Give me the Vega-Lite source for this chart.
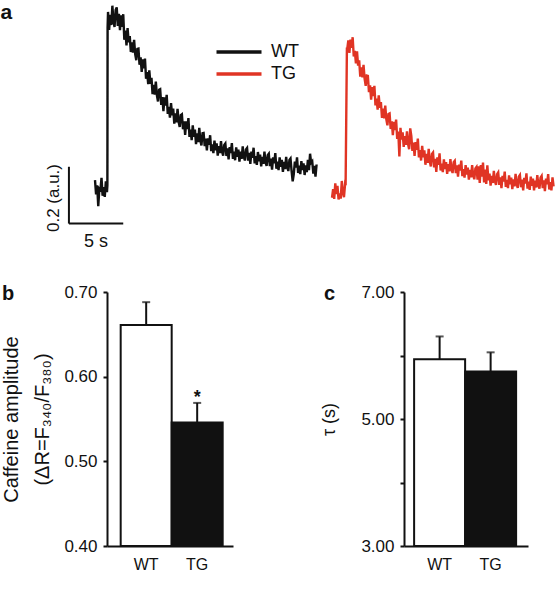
{
"$schema": "https://vega.github.io/schema/vega-lite/v6.json",
"padding": 0,
"config": {"font": "Liberation Sans", "view": {"stroke": null}, "title": {"font": "Liberation Sans"}},
"datasets": {
"wt": [
{"t":0,"v":0.353},{"t":0.1,"v":0.303},{"t":0.2,"v":0.335},{"t":0.3,"v":0.261},{"t":0.4,"v":0.323},{"t":0.5,"v":0.319},{"t":0.6,"v":0.361},{"t":0.7,"v":0.298},{"t":0.8,"v":0.328},{"t":0.9,"v":0.294},{"t":1.0,"v":0.349},{"t":1.1,"v":0.311},{"t":1.14,"v":0.335},{"t":1.16,"v":0.89},
{"t":1.2,"v":0.945},{"t":1.3,"v":0.882},{"t":1.4,"v":0.935},{"t":1.5,"v":0.899},{"t":1.6,"v":0.967},{"t":1.7,"v":0.912},{"t":1.8,"v":0.892},{"t":1.9,"v":0.952},{"t":2.0,"v":0.961},{"t":2.1,"v":0.896},{"t":2.2,"v":0.938},{"t":2.3,"v":0.881},{"t":2.4,"v":0.933},{"t":2.5,"v":0.892},{"t":2.6,"v":0.937},{"t":2.7,"v":0.847},{"t":2.8,"v":0.879},{"t":2.9,"v":0.827},
{"t":3.0,"v":0.888},{"t":3.1,"v":0.838},{"t":3.2,"v":0.860},{"t":3.3,"v":0.804},{"t":3.4,"v":0.838},{"t":3.5,"v":0.802},{"t":3.6,"v":0.847},{"t":3.7,"v":0.797},{"t":3.8,"v":0.775},{"t":3.9,"v":0.815},
{"t":4.0,"v":0.816},{"t":4.1,"v":0.759},{"t":4.2,"v":0.785},{"t":4.3,"v":0.734},{"t":4.4,"v":0.778},{"t":4.5,"v":0.746},{"t":4.6,"v":0.781},{"t":4.7,"v":0.710},{"t":4.8,"v":0.733},{"t":4.9,"v":0.691},
{"t":5.0,"v":0.739},{"t":5.1,"v":0.692},{"t":5.2,"v":0.713},{"t":5.3,"v":0.656},{"t":5.4,"v":0.688},{"t":5.5,"v":0.654},{"t":5.6,"v":0.700},{"t":5.7,"v":0.651},{"t":5.8,"v":0.630},{"t":5.9,"v":0.671},
{"t":6.0,"v":0.673},{"t":6.1,"v":0.618},{"t":6.2,"v":0.645},{"t":6.3,"v":0.596},{"t":6.4,"v":0.644},{"t":6.5,"v":0.615},{"t":6.6,"v":0.653},{"t":6.7,"v":0.586},{"t":6.8,"v":0.611},{"t":6.9,"v":0.573},
{"t":7.0,"v":0.624},{"t":7.1,"v":0.581},{"t":7.2,"v":0.605},{"t":7.3,"v":0.552},{"t":7.4,"v":0.588},{"t":7.5,"v":0.556},{"t":7.6,"v":0.604},{"t":7.7,"v":0.558},{"t":7.8,"v":0.540},{"t":7.9,"v":0.582},
{"t":8.0,"v":0.585},{"t":8.1,"v":0.532},{"t":8.2,"v":0.560},{"t":8.3,"v":0.512},{"t":8.4,"v":0.560},{"t":8.5,"v":0.533},{"t":8.6,"v":0.571},{"t":8.7,"v":0.505},{"t":8.8,"v":0.531},{"t":8.9,"v":0.494},
{"t":9.0,"v":0.546},{"t":9.1,"v":0.505},{"t":9.2,"v":0.531},{"t":9.3,"v":0.480},{"t":9.4,"v":0.518},{"t":9.5,"v":0.487},{"t":9.6,"v":0.537},{"t":9.7,"v":0.492},{"t":9.8,"v":0.475},{"t":9.9,"v":0.518},
{"t":10.0,"v":0.519},{"t":10.1,"v":0.473},{"t":10.2,"v":0.499},{"t":10.3,"v":0.458},{"t":10.4,"v":0.500},{"t":10.5,"v":0.477},{"t":10.6,"v":0.511},{"t":10.7,"v":0.455},{"t":10.8,"v":0.479},{"t":10.9,"v":0.448},
{"t":11.0,"v":0.492},{"t":11.1,"v":0.458},{"t":11.2,"v":0.482},{"t":11.3,"v":0.439},{"t":11.4,"v":0.473},{"t":11.5,"v":0.448},{"t":11.6,"v":0.490},{"t":11.7,"v":0.453},{"t":11.8,"v":0.439},{"t":11.9,"v":0.477},
{"t":12.0,"v":0.482},{"t":12.1,"v":0.438},{"t":12.2,"v":0.465},{"t":12.3,"v":0.426},{"t":12.4,"v":0.469},{"t":12.5,"v":0.448},{"t":12.6,"v":0.483},{"t":12.7,"v":0.428},{"t":12.8,"v":0.453},{"t":12.9,"v":0.423},
{"t":13.0,"v":0.468},{"t":13.1,"v":0.435},{"t":13.2,"v":0.460},{"t":13.3,"v":0.418},{"t":13.4,"v":0.453},{"t":13.5,"v":0.428},{"t":13.6,"v":0.472},{"t":13.7,"v":0.435},{"t":13.8,"v":0.422},{"t":13.9,"v":0.461},
{"t":14.0,"v":0.466},{"t":14.1,"v":0.422},{"t":14.2,"v":0.449},{"t":14.3,"v":0.410},{"t":14.4,"v":0.453},{"t":14.5,"v":0.432},{"t":14.6,"v":0.467},{"t":14.7,"v":0.412},{"t":14.8,"v":0.437},{"t":14.9,"v":0.407},
{"t":15.0,"v":0.452},{"t":15.1,"v":0.419},{"t":15.2,"v":0.443},{"t":15.3,"v":0.401},{"t":15.4,"v":0.435},{"t":15.5,"v":0.410},{"t":15.6,"v":0.453},{"t":15.7,"v":0.416},{"t":15.8,"v":0.403},{"t":15.9,"v":0.441},
{"t":16.0,"v":0.446},{"t":16.1,"v":0.402},{"t":16.2,"v":0.429},{"t":16.3,"v":0.390},{"t":16.4,"v":0.433},{"t":16.5,"v":0.412},{"t":16.6,"v":0.448},{"t":16.7,"v":0.393},{"t":16.8,"v":0.418},{"t":16.9,"v":0.388},
{"t":17.0,"v":0.433},{"t":17.1,"v":0.400},{"t":17.2,"v":0.424},{"t":17.3,"v":0.382},{"t":17.4,"v":0.417},{"t":17.5,"v":0.392},{"t":17.6,"v":0.435},{"t":17.7,"v":0.398},{"t":17.8,"v":0.385},{"t":17.9,"v":0.424},
{"t":18.0,"v":0.429},{"t":18.1,"v":0.385},{"t":18.2,"v":0.349},{"t":18.3,"v":0.374},{"t":18.4,"v":0.418},{"t":18.5,"v":0.397},{"t":18.6,"v":0.433},{"t":18.7,"v":0.378},{"t":18.8,"v":0.404},{"t":18.9,"v":0.374},
{"t":19.0,"v":0.420},{"t":19.1,"v":0.388},{"t":19.2,"v":0.412},{"t":19.3,"v":0.371},{"t":19.4,"v":0.405},{"t":19.5,"v":0.381},{"t":19.6,"v":0.424},{"t":19.7,"v":0.388},{"t":19.8,"v":0.446},{"t":19.9,"v":0.414},
{"t":20.0,"v":0.419},{"t":20.1,"v":0.376},{"t":20.2,"v":0.403},{"t":20.3,"v":0.365},{"t":20.4,"v":0.408}
],
"tg": [
{"t":0,"v":0.291},{"t":0.1,"v":0.321},{"t":0.2,"v":0.287},{"t":0.3,"v":0.342},{"t":0.4,"v":0.304},{"t":0.5,"v":0.333},{"t":0.6,"v":0.285},{"t":0.7,"v":0.306},{"t":0.8,"v":0.288},{"t":0.9,"v":0.350},{"t":1.0,"v":0.308},{"t":1.1,"v":0.293},{"t":1.2,"v":0.339},{"t":1.25,"v":0.335},{"t":1.37,"v":0.82},
{"t":1.4,"v":0.813},{"t":1.5,"v":0.845},{"t":1.6,"v":0.801},{"t":1.7,"v":0.848},{"t":1.8,"v":0.819},{"t":1.9,"v":0.856},
{"t":2.0,"v":0.788},{"t":2.1,"v":0.808},{"t":2.2,"v":0.764},{"t":2.3,"v":0.806},{"t":2.4,"v":0.756},{"t":2.5,"v":0.775},{"t":2.6,"v":0.717},{"t":2.7,"v":0.750},{"t":2.8,"v":0.715},{"t":2.9,"v":0.759},
{"t":3.0,"v":0.710},{"t":3.1,"v":0.685},{"t":3.2,"v":0.721},{"t":3.3,"v":0.720},{"t":3.4,"v":0.663},{"t":3.5,"v":0.687},{"t":3.6,"v":0.636},{"t":3.7,"v":0.680},{"t":3.8,"v":0.649},{"t":3.9,"v":0.685},
{"t":4.0,"v":0.616},{"t":4.1,"v":0.640},{"t":4.2,"v":0.601},{"t":4.3,"v":0.651},{"t":4.4,"v":0.608},{"t":4.5,"v":0.628},{"t":4.6,"v":0.572},{"t":4.7,"v":0.605},{"t":4.8,"v":0.570},{"t":4.9,"v":0.615},
{"t":5.0,"v":0.567},{"t":5.1,"v":0.546},{"t":5.2,"v":0.586},{"t":5.3,"v":0.588},{"t":5.4,"v":0.533},{"t":5.5,"v":0.560},{"t":5.6,"v":0.511},{"t":5.7,"v":0.558},{"t":5.8,"v":0.529},{"t":5.9,"v":0.566},
{"t":6.0,"v":0.498},{"t":6.1,"v":0.524},{"t":6.2,"v":0.436},{"t":6.3,"v":0.537},{"t":6.4,"v":0.496},{"t":6.5,"v":0.521},{"t":6.6,"v":0.470},{"t":6.7,"v":0.508},{"t":6.8,"v":0.477},{"t":6.9,"v":0.525},
{"t":7.0,"v":0.480},{"t":7.1,"v":0.462},{"t":7.2,"v":0.535},{"t":7.3,"v":0.509},{"t":7.4,"v":0.456},{"t":7.5,"v":0.485},{"t":7.6,"v":0.438},{"t":7.7,"v":0.487},{"t":7.8,"v":0.460},{"t":7.9,"v":0.499},
{"t":8.0,"v":0.433},{"t":8.1,"v":0.459},{"t":8.2,"v":0.422},{"t":8.3,"v":0.474},{"t":8.4,"v":0.433},{"t":8.5,"v":0.458},{"t":8.6,"v":0.407},{"t":8.7,"v":0.445},{"t":8.8,"v":0.414},{"t":8.9,"v":0.463},
{"t":9.0,"v":0.418},{"t":9.1,"v":0.401},{"t":9.2,"v":0.445},{"t":9.3,"v":0.450},{"t":9.4,"v":0.398},{"t":9.5,"v":0.428},{"t":9.6,"v":0.382},{"t":9.7,"v":0.433},{"t":9.8,"v":0.407},{"t":9.9,"v":0.447},
{"t":10.0,"v":0.387},{"t":10.1,"v":0.411},{"t":10.2,"v":0.381},{"t":10.3,"v":0.426},{"t":10.4,"v":0.392},{"t":10.5,"v":0.416},{"t":10.6,"v":0.375},{"t":10.7,"v":0.409},{"t":10.8,"v":0.384},{"t":10.9,"v":0.427},
{"t":11.0,"v":0.391},{"t":11.1,"v":0.378},{"t":11.2,"v":0.416},{"t":11.3,"v":0.421},{"t":11.4,"v":0.378},{"t":11.5,"v":0.405},{"t":11.6,"v":0.365},{"t":11.7,"v":0.408},{"t":11.8,"v":0.387},{"t":11.9,"v":0.422},
{"t":12.0,"v":0.367},{"t":12.1,"v":0.392},{"t":12.2,"v":0.362},{"t":12.3,"v":0.406},{"t":12.4,"v":0.373},{"t":12.5,"v":0.397},{"t":12.6,"v":0.355},{"t":12.7,"v":0.389},{"t":12.8,"v":0.363},{"t":12.9,"v":0.406},
{"t":13.0,"v":0.369},{"t":13.1,"v":0.356},{"t":13.2,"v":0.394},{"t":13.3,"v":0.399},{"t":13.4,"v":0.355},{"t":13.5,"v":0.402},{"t":13.6,"v":0.343},{"t":13.7,"v":0.406},{"t":13.8,"v":0.365},{"t":13.9,"v":0.415},
{"t":14.0,"v":0.345},{"t":14.1,"v":0.390},{"t":14.2,"v":0.340},{"t":14.3,"v":0.405},{"t":14.4,"v":0.352},{"t":14.5,"v":0.376},{"t":14.6,"v":0.334},{"t":14.7,"v":0.368},{"t":14.8,"v":0.343},{"t":14.9,"v":0.386},
{"t":15.0,"v":0.349},{"t":15.1,"v":0.336},{"t":15.2,"v":0.374},{"t":15.3,"v":0.380},{"t":15.4,"v":0.336},{"t":15.5,"v":0.363},{"t":15.6,"v":0.325},{"t":15.7,"v":0.368},{"t":15.8,"v":0.348},{"t":15.9,"v":0.383},
{"t":16.0,"v":0.329},{"t":16.1,"v":0.354},{"t":16.2,"v":0.325},{"t":16.3,"v":0.370},{"t":16.4,"v":0.338},{"t":16.5,"v":0.362},{"t":16.6,"v":0.321},{"t":16.7,"v":0.356},{"t":16.8,"v":0.331},{"t":16.9,"v":0.375},
{"t":17.0,"v":0.339},{"t":17.1,"v":0.326},{"t":17.2,"v":0.365},{"t":17.3,"v":0.371},{"t":17.4,"v":0.328},{"t":17.5,"v":0.355},{"t":17.6,"v":0.317},{"t":17.7,"v":0.361},{"t":17.8,"v":0.341},{"t":17.9,"v":0.377},
{"t":18.0,"v":0.323},{"t":18.1,"v":0.348},{"t":18.2,"v":0.319},{"t":18.3,"v":0.365},{"t":18.4,"v":0.333},{"t":18.5,"v":0.358},{"t":18.6,"v":0.317},{"t":18.7,"v":0.351},{"t":18.8,"v":0.327},{"t":18.9,"v":0.371},
{"t":19.0,"v":0.335},{"t":19.1,"v":0.323},{"t":19.2,"v":0.362},{"t":19.3,"v":0.368},{"t":19.4,"v":0.325},{"t":19.5,"v":0.352},{"t":19.6,"v":0.314},{"t":19.7,"v":0.358},{"t":19.8,"v":0.338},{"t":19.9,"v":0.374},
{"t":20.0,"v":0.320},{"t":20.1,"v":0.346},{"t":20.2,"v":0.317},{"t":20.3,"v":0.363},{"t":20.4,"v":0.331}
],
"amp": [{"g":"WT","m":0.661,"e":0.688},{"g":"TG","m":0.546,"e":0.569,"sig":"*"}],
"tau": [{"g":"WT","m":5.94,"e":6.30},{"g":"TG","m":5.75,"e":6.05}]
},
"columns": 1,
"align": "none",
"spacing": 31,
"concat": [
{
"width": 448, "height": 250,
"resolve": {"scale": {"x": "independent"}},
"layer": [
{"data": {"name": "wt"},
 "mark": {"type": "line", "strokeWidth": 2.4},
 "encoding": {
  "x": {"field": "t", "type": "quantitative", "scale": {"domain": [1.105, 42.35], "nice": false, "zero": false}, "axis": null},
  "y": {"field": "v", "type": "quantitative", "scale": {"domain": [0.1, 0.98], "nice": false, "zero": false}, "axis": null},
  "color": {"datum": "WT", "type": "nominal", "scale": {"domain": ["WT", "TG"], "range": ["#111111", "#e03424"]},
   "legend": {"orient": "none", "legendX": 121, "legendY": 39, "title": null, "symbolType": "M-2.5,0H2.5", "symbolSize": 324, "symbolStrokeWidth": 3.5, "labelFontSize": 18, "labelOffset": 21, "rowPadding": 2, "labelColor": "#111", "padding": 0}}
 }},
{"data": {"name": "tg"},
 "mark": {"type": "line", "strokeWidth": 2.4},
 "encoding": {
  "x": {"field": "t", "type": "quantitative", "scale": {"domain": [-20.72, 20.53], "nice": false, "zero": false}, "axis": null},
  "y": {"field": "v", "type": "quantitative", "scale": {"domain": [0.1, 0.98], "nice": false, "zero": false}, "axis": null},
  "color": {"datum": "TG", "type": "nominal"}
 }},
{"data": {"values": [{}]},
 "mark": {"type": "rule", "strokeWidth": 2, "color": "#111"},
 "encoding": {
  "x": {"datum": -2.4, "type": "quantitative", "scale": {"domain": [1.105, 42.35], "nice": false, "zero": false}, "axis": null},
  "y": {"datum": 0.2, "type": "quantitative", "scale": {"domain": [0.1, 0.98], "nice": false, "zero": false}, "axis": null},
  "y2": {"datum": 0.4}
 }},
{"data": {"values": [{}]},
 "mark": {"type": "rule", "strokeWidth": 2, "color": "#111"},
 "encoding": {
  "x": {"datum": -2.4, "type": "quantitative", "scale": {"domain": [1.105, 42.35], "nice": false, "zero": false}, "axis": null},
  "x2": {"datum": 2.6},
  "y": {"datum": 0.2, "type": "quantitative", "scale": {"domain": [0.1, 0.98], "nice": false, "zero": false}, "axis": null}
 }},
{"data": {"values": [{}]},
 "mark": {"type": "text", "text": "0.2 (a.u.)", "fontSize": 17, "angle": 270, "align": "center", "baseline": "middle", "color": "#111"},
 "encoding": {
  "x": {"datum": -3.77, "type": "quantitative", "scale": {"domain": [1.105, 42.35], "nice": false, "zero": false}, "axis": null},
  "y": {"datum": 0.29, "type": "quantitative", "scale": {"domain": [0.1, 0.98], "nice": false, "zero": false}, "axis": null}
 }},
{"data": {"values": [{}]},
 "mark": {"type": "text", "text": "5 s", "fontSize": 18, "align": "center", "baseline": "middle", "color": "#111"},
 "encoding": {
  "x": {"datum": 0.1, "type": "quantitative", "scale": {"domain": [1.105, 42.35], "nice": false, "zero": false}, "axis": null},
  "y": {"datum": 0.135, "type": "quantitative", "scale": {"domain": [0.1, 0.98], "nice": false, "zero": false}, "axis": null}
 }},
{"data": {"values": [{}]},
 "mark": {"type": "text", "text": "a", "fontSize": 21, "fontWeight": "bold", "align": "left", "baseline": "alphabetic", "color": "#111"},
 "encoding": {
  "x": {"datum": -8.7, "type": "quantitative", "scale": {"domain": [1.105, 42.35], "nice": false, "zero": false}, "axis": null},
  "y": {"datum": 0.92, "type": "quantitative", "scale": {"domain": [0.1, 0.98], "nice": false, "zero": false}, "axis": null}
 }}
]
},
{
"spacing": 87,
"hconcat": [
{
"width": 126, "height": 254,
"title": {"text": "b", "anchor": "start", "frame": "bounds", "offset": 0, "dy": 21, "fontSize": 20, "fontWeight": "bold", "color": "#111"},
"data": {"name": "amp"},
"encoding": {"x": {"field": "g", "type": "nominal", "sort": ["WT", "TG"], "scale": {"paddingInner": 0, "paddingOuter": 0.2353, "align": 0.57},
  "axis": {"title": null, "labelAngle": 0, "ticks": false, "domainColor": "#111", "domainWidth": 2, "labelFontSize": 16, "labelPadding": 10, "labelColor": "#111"}}},
"layer": [
{"mark": {"type": "bar", "stroke": "#111", "strokeWidth": 2},
 "encoding": {
  "y": {"field": "m", "type": "quantitative", "scale": {"domain": [0.4, 0.7], "nice": false, "zero": false},
   "axis": {"values": [0.4, 0.5, 0.6, 0.7], "format": ".2f", "title": ["Caffeine amplitude", "(ΔR=F₃₄₀/F₃₈₀)"], "grid": false, "domainColor": "#111", "domainWidth": 2, "tickColor": "#111", "tickWidth": 2, "tickSize": 4, "labelFontSize": 17, "labelPadding": 6, "labelColor": "#111", "titleFontSize": 20, "titleFontWeight": "normal", "titleColor": "#111", "titlePadding": 11, "titleLineHeight": 31}},
  "y2": {"datum": 0.4},
  "fill": {"field": "g", "type": "nominal", "scale": {"domain": ["WT", "TG"], "range": ["#ffffff", "#111111"]}, "legend": null}
 }},
{"mark": {"type": "rule", "strokeWidth": 2, "color": "#111"},
 "encoding": {"y": {"field": "m", "type": "quantitative"}, "y2": {"field": "e"}}},
{"mark": {"type": "tick", "thickness": 2, "size": 8, "color": "#111"},
 "encoding": {"y": {"field": "e", "type": "quantitative"}}},
{"transform": [{"filter": "isValid(datum.sig)"}],
 "mark": {"type": "text", "fontSize": 18, "fontWeight": "bold", "baseline": "alphabetic", "color": "#111"},
 "encoding": {"y": {"field": "e", "type": "quantitative"}, "text": {"field": "sig"}}}
]
},
{
"width": 124, "height": 254,
"title": {"text": "c", "anchor": "start", "frame": "bounds", "offset": 0, "dy": 21, "dx": 3, "fontSize": 20, "fontWeight": "bold", "color": "#111"},
"data": {"name": "tau"},
"encoding": {"x": {"field": "g", "type": "nominal", "sort": ["WT", "TG"], "scale": {"paddingInner": 0, "paddingOuter": 0.2157, "align": 0.46},
  "axis": {"title": null, "labelAngle": 0, "ticks": false, "domainColor": "#111", "domainWidth": 2, "labelFontSize": 16, "labelPadding": 10, "labelColor": "#111"}}},
"layer": [
{"mark": {"type": "bar", "stroke": "#111", "strokeWidth": 2},
 "encoding": {
  "y": {"field": "m", "type": "quantitative", "scale": {"domain": [3, 7], "nice": false, "zero": false},
   "axis": {"values": [3, 4, 5, 6, 7], "labelExpr": "datum.value % 2 == 1 ? format(datum.value, '.2f') : ''", "title": "τ (s)", "grid": false, "domainColor": "#111", "domainWidth": 2, "tickColor": "#111", "tickWidth": 2, "tickSize": 4, "labelFontSize": 17, "labelPadding": 6, "labelColor": "#111", "titleFontSize": 18, "titleFontWeight": "normal", "titleColor": "#111", "titlePadding": 22}},
  "y2": {"datum": 3},
  "fill": {"field": "g", "type": "nominal", "scale": {"domain": ["WT", "TG"], "range": ["#ffffff", "#111111"]}, "legend": null}
 }},
{"mark": {"type": "rule", "strokeWidth": 2, "color": "#111"},
 "encoding": {"y": {"field": "m", "type": "quantitative"}, "y2": {"field": "e"}}},
{"mark": {"type": "tick", "thickness": 2, "size": 8, "color": "#111"},
 "encoding": {"y": {"field": "e", "type": "quantitative"}}}
]
}
]
}
]
}
